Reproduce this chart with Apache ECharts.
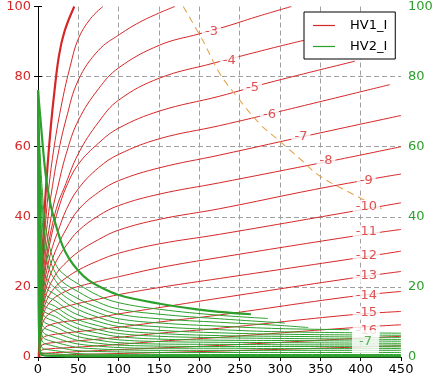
<!DOCTYPE html>
<html><head><meta charset="utf-8">
<script src="https://cdn.jsdelivr.net/npm/echarts@6/dist/echarts.min.js"></script>
<style>html,body{margin:0;padding:0;background:#fff}#c{width:437px;height:379px}</style>
</head><body><div id="c"></div>
<script>
// ---- HV1_I (red) contour curves: [x, y] points ----
const hv1_thick = [[1,0],[2,8],[3,15],[5,27],[7.5,38],[9,45],[12,55],[16,66],[20,75],[26,86],[33,93],[45,100]];
const hv1_r1 = [[1,0],[2,7],[3,13],[5,23],[8,34],[13,47.4],[20,60],[30,73],[40,83],[50,90.8],[65,96.5],[80.5,100]];
const hv1_r2 = [[1,0],[2,6.5],[3,12],[5,21],[8,30],[12,39],[17,47.4],[25,58],[35,68],[50,79],[75,87.5],[101,92],[130,96],[169.5,100]];
const hv1_m3 = [[1,0],[2,6],[3,11],[5,19],[8,27],[12,34],[18,42],[23,47],[35,58],[50,67.5],[75,76.5],[100,82.5],[151,89],[200,92.2],[233,94.3],[270,97],[314,100]];
const hv1_m4 = [[1,0],[2,5.5],[3,10],[5,17.5],[8,24.5],[12,31],[18,38],[25,44],[32,48],[50,58],[75,67],[100,73.3],[151,79.6],[217,83.8],[254,86],[300,88.7],[345,91.2]];
const hv1_m5 = [[1,0],[2,5],[3,9.5],[5,16],[8,23],[12,29],[18,36],[25,42],[35,48.5],[50,55],[75,61],[100,65.3],[151,70.2],[225,74.4],[285,78.2],[393,84.4]];
const hv1_m6 = [[1,0],[2,4.8],[3,9],[5,15],[8,21],[12,26],[18,31.5],[25,36],[35,42],[50,48],[75,54],[100,57.8],[151,62.3],[225,66],[304,70.3],[436,77.7]];
const hv1_m7 = [[1,0],[2,4.6],[3,8.6],[5,14],[8,19],[12,23.5],[18,28],[25,32],[35,36.5],[50,42],[75,47],[100,50.3],[151,54],[225,57.6],[347,63.8],[450,68.9]];
const hv1_m8 = [[1,0],[2,4.4],[3,8.2],[5,13],[8,17.5],[12,21.2],[18,25],[25,28.3],[35,31.8],[50,36],[75,40.3],[100,43.2],[151,46.5],[225,49.7],[338,54.8],[374,56.4],[450,60]];
const hv1_m9 = [[1,0],[2,4.2],[3,7.8],[5,12.2],[8,16],[12,19],[18,22],[25,24.5],[35,27],[50,30],[75,33.5],[100,36.2],[151,39.3],[225,42.3],[343,47.8],[424,51.2],[450,52.2]];
const hv1_m10 = [[1,0],[2,4],[3,7.4],[5,11.3],[8,14.4],[12,16.8],[18,19],[25,20.8],[35,22.6],[50,24.8],[75,27.5],[100,29.6],[151,32.3],[225,35],[386,41.4],[450,44]];
const hv1_m11 = [[1,0],[2,3.8],[3,7],[5,10.4],[8,13],[12,14.8],[18,16.4],[25,17.6],[35,18.8],[48,20],[85,22.1],[100,22.9],[151,25.5],[225,28.4],[386,34.3],[450,36.4]];
const hv1_m12 = [[1,0],[2,3.5],[3,6.3],[5,9],[8,10.8],[12,12],[18,13],[25,13.7],[35,14.4],[48,15.2],[75,16.5],[100,17.8],[155,20],[225,22.4],[386,27.9],[450,30.2]];
const hv1_m13 = [[1,0],[2,3],[3,5.2],[5,7.2],[8,8.2],[12,8.9],[25,9.8],[48,10.5],[75,11.3],[100,12.3],[156,14.3],[225,16.8],[386,22.4],[450,24.4]];
const hv1_m14 = [[1,0],[2,2.4],[3,4],[5,5.2],[8,5.8],[12,6.1],[25,6.6],[48,7.2],[100,8.5],[151,10],[225,12],[386,17.2],[450,18.7]];
const hv1_m15 = [[1,0],[2,1.8],[3,2.8],[5,3.4],[12,3.9],[25,4.2],[48,4.6],[100,5.6],[151,6.8],[225,8.2],[386,12],[450,13]];
const hv1_m16 = [[1,0],[2,1.1],[3,1.6],[5,2],[12,2.3],[48,2.8],[100,3.6],[151,4.5],[225,5.6],[386,8.3],[450,9.2]];
const hv1_m17 = [[1,0],[2,0.6],[5,1],[48,1.5],[100,2.1],[225,3.3],[386,5.2],[450,5.9]];
const hv1_m18 = [[1,0],[5,0.4],[48,0.7],[225,1.7],[450,3.2]];

// ---- HV2_I (green) contour curves ----
const hv2_thick = [[0,76],[3,68],[6,60],[9,53],[12,48],[16,43],[21.7,38],[30,32],[38,28.3],[50,24.6],[62,22],[76,20.1],[100,17.7],[151,15.2],[200,13.5],[225,12.9],[264,12.2]];
const hv2_g1 = [[0.2,76],[2,62],[4,52],[5.5,47],[8,40],[12,34],[16,30],[21.7,26.5],[30,24],[50,20.8],[75,17.5],[100,15.5],[151,13.6],[225,11.9],[285,11]];
const hv2_g2 = [[0.2,76],[1.5,62],[3,52],[4.5,46],[7,38],[10,32],[15,27.5],[21.7,24],[30,21.5],[50,18.6],[75,15.6],[100,13.7],[151,12.2],[225,10.9],[306,9.7]];
const hv2_g3 = [[0.2,76],[1.2,62],[2.5,52],[4,44],[6,36.5],[9,30],[14,25],[21.7,21.8],[30,19.5],[50,16.6],[75,14],[100,12.2],[151,10.9],[225,9.9],[300,9],[335,8.4]];
const hv2_g4 = [[0.2,76],[1,62],[2.2,52],[3.5,42],[5.2,31],[7.2,25.3],[10,22.8],[15,21],[21.7,19.6],[35,17],[50,15],[75,12.6],[100,10.9],[151,9.7],[225,8.8],[300,8.1],[386,7.8]];
const hv2_g5 = [[0.2,76],[0.9,62],[2,52],[3.2,40],[4.5,30],[6,24],[8,21],[12,19.2],[21.7,17.8],[35,15.4],[50,13.5],[75,11.3],[100,9.7],[151,8.6],[225,7.8],[300,7.2],[450,6.8]];
const hv2_g6 = [[0.2,76],[0.8,62],[1.8,52],[2.9,39],[4,29],[5.2,23],[7,19.5],[10,17.6],[21.7,16],[35,13.8],[50,12],[75,10.1],[100,8.7],[151,7.6],[225,6.9],[300,6.5],[450,6.2]];
const hv2_g7 = [[0.2,76],[0.75,62],[1.6,52],[2.6,38],[3.6,28],[4.8,21.5],[6.5,17.7],[10,15.8],[21.7,14.4],[35,12.3],[50,10.6],[75,8.9],[100,7.6],[151,6.7],[225,6.1],[300,5.9],[450,5.6]];
const hv2_g8 = [[0.2,76],[0.7,62],[1.5,52],[2.4,37],[3,30],[4,23],[5.2,17.7],[7,15],[10,14.2],[21.7,13],[35,11],[50,9.4],[75,7.8],[100,6.7],[151,5.9],[225,5.5],[300,5.3],[450,5]];
const hv2_g9 = [[0.2,76],[0.65,62],[1.4,50],[2.2,36],[2.8,28],[3.8,20],[5,15.6],[7,13.3],[10,12.6],[21.7,11.5],[35,9.7],[50,8.1],[75,6.8],[100,5.8],[151,5.1],[225,4.8],[300,4.7],[450,4.5]];
const hv2_g10 = [[0.2,76],[0.6,62],[1.3,48],[2,32],[3,22],[4,16.5],[5.2,13.5],[7,12],[10,11.2],[21.7,10.1],[35,8.4],[50,6.9],[75,5.7],[100,4.9],[151,4.4],[225,4.2],[300,4.1],[450,3.9]];
const hv2_g11 = [[0.2,76],[0.55,62],[1.2,46],[2,27],[3,18],[4,13.5],[5.2,11.3],[7,10.2],[10,9.6],[21.7,8.6],[35,7.1],[50,5.8],[75,4.8],[100,4.1],[151,3.7],[225,3.6],[300,3.5],[450,3.4]];
const hv2_g12 = [[0.2,76],[0.5,62],[1.1,44],[2,23],[3,15],[4,11.2],[5.2,9.3],[7,8.5],[10,8],[21.7,7],[35,5.8],[50,4.7],[75,3.9],[100,3.4],[151,3.1],[225,3.0],[300,3.0],[450,2.9]];
const hv2_g13 = [[0.2,76],[0.45,62],[1,42],[2,18],[3,12],[4,9],[5.2,7.6],[7,6.9],[10,6.4],[21.7,5.5],[35,4.5],[50,3.7],[75,3.1],[100,2.7],[151,2.5],[225,2.5],[300,2.4],[450,2.4]];
const hv2_g14 = [[0.2,76],[0.4,62],[0.9,40],[2,14],[3,9.5],[4,7.2],[5.2,6],[7,5.4],[10,5],[21.7,4.2],[35,3.4],[50,2.7],[75,2.3],[100,2.05],[151,1.9],[225,1.9],[450,1.9]];
const hv2_g15 = [[0.2,76],[0.35,62],[0.8,38],[2,10],[3,7],[4,5.4],[5.2,4.5],[7,4],[10,3.7],[21.7,3],[35,2.3],[50,1.8],[100,1.45],[151,1.3],[450,1.3]];
const hv2_g16 = [[0.2,76],[0.3,62],[0.7,36],[2,6],[3,4.5],[5.2,2.6],[10,2.2],[21.7,1.8],[50,0.95],[100,0.75],[450,0.7]];
const hv2_g17 = [[0.2,76],[0.25,60],[0.6,30],[2,3],[5,1.2],[21.7,0.9],[50,0.5],[450,0.4]];
const hv2_g18 = [[0.2,76],[0.22,60],[0.5,25],[2,1.5],[10,0.4],[50,0.2],[450,0.15]];

// dashed guide line
const guideLine = [[180,100],[205,90],[225,81],[248,73.9],[275,66.5],[299.5,61.6],[325,56.5],[349,51.7],[390,46.5],[426,42.3]];

// contour labels
const hv1LabelText = ['-3','-4','-5','-6','-7','-8','-9','-10','-11','-12','-13','-14','-15','-16'];
const hv1LabelX = [215,237,266,287,326,357,407,407,407,407,407,407,407,407];
const hv1LabelY = [92.8,84.5,76.9,69.2,63,55.9,50.2,42.8,35.7,29,23.2,17.5,12.6,7.6];
const hv2LabelText = ['-7'];
const hv2LabelX = [406];
const hv2LabelY = [4.4];

const RED = '#d62728', GREEN = '#2ca02c';
const FONT = 'DejaVu Sans';

const redCurves = [hv1_thick,hv1_r1,hv1_r2,hv1_m3,hv1_m4,hv1_m5,hv1_m6,hv1_m7,hv1_m8,hv1_m9,hv1_m10,hv1_m11,hv1_m12,hv1_m13,hv1_m14,hv1_m15,hv1_m16,hv1_m17,hv1_m18];
const greenCurves = [hv2_thick,hv2_g1,hv2_g2,hv2_g3,hv2_g4,hv2_g5,hv2_g6,hv2_g7,hv2_g8,hv2_g9,hv2_g10,hv2_g11,hv2_g12,hv2_g13,hv2_g14,hv2_g15,hv2_g16,hv2_g17,hv2_g18];

const series = [];
redCurves.forEach((c,i)=>series.push({
  name:'HV1_I', type:'line', data:c, showSymbol:false, symbol:'none',
  smooth:0.4, z:2, silent:true,
  lineStyle:{color:RED, width: i===0?2.2:1}, itemStyle:{color:RED}
}));
greenCurves.forEach((c,i)=>series.push({
  name:'HV2_I', type:'line', data:c, showSymbol:false, symbol:'none',
  smooth:0.4, z:3, silent:true,
  lineStyle:{color:GREEN, width: (i===0||i===greenCurves.length-1)?2.2:1}, itemStyle:{color:GREEN}
}));
series.push({
  name:'guide', type:'line', data:guideLine, showSymbol:false, symbol:'none', smooth:0.4, z:4, silent:true,
  lineStyle:{color:'#e6a552', width:1.1, type:[7,5]}
});
series.push({
  name:'hv1labels', type:'scatter', symbolSize:0, z:10, silent:true,
  data: hv1LabelText.map((t,i)=>[hv1LabelX[i],hv1LabelY[i],t]),
  label:{show:true, position:'inside', formatter:p=>p.value[2], color:RED, fontFamily:FONT, fontSize:13,
    backgroundColor:'#fff', padding:[1,3,0,3]}
});
series.push({
  name:'hv2labels', type:'scatter', symbolSize:0, z:11, silent:true,
  data: hv2LabelText.map((t,i)=>[hv2LabelX[i],hv2LabelY[i],t]),
  label:{show:true, position:'inside', formatter:p=>p.value[2], color:GREEN, fontFamily:FONT, fontSize:13,
    backgroundColor:'#fff', padding:[5,7,5,7]}
});

const splitStyle = {color:'#a0a0a0', type:[5,3], width:1};
const chart = echarts.init(document.getElementById('c'), null, {renderer:'canvas'});
chart.setOption({
  animation:false,
  backgroundColor:'#fff',
  grid:{left:38, right:36, top:5, bottom:22, show:false},
  legend:{
    data:['HV1_I','HV2_I'], orient:'vertical', left:304, top:12,
    backgroundColor:'#fff', borderColor:'#000', borderWidth:1, borderRadius:0,
    padding:[7,8,6,9], itemWidth:22, itemHeight:1.2, itemGap:8, icon:'rect',
    textStyle:{fontFamily:FONT, fontSize:13, color:'#000', padding:[0,0,0,10]}
  },
  xAxis:[
    {type:'value', min:0, max:450, interval:50, position:'bottom',
     axisLine:{show:true, lineStyle:{color:'#000'}}, axisTick:{show:true, length:4, lineStyle:{color:'#000'}},
     axisLabel:{color:'#000', fontFamily:FONT, fontSize:13, margin:6},
     splitLine:{show:true, showMinLine:false, showMaxLine:false, lineStyle:splitStyle}},
    {type:'value', min:0, max:450, interval:50, position:'top',
     axisLine:{show:true, lineStyle:{color:'#000'}}, axisTick:{show:false}, axisLabel:{show:false}, splitLine:{show:false}}
  ],
  yAxis:[
    {type:'value', min:0, max:100, interval:20, position:'left',
     axisLine:{show:true, lineStyle:{color:'#000'}}, axisTick:{show:true, length:4, lineStyle:{color:'#000'}},
     axisLabel:{color:RED, fontFamily:FONT, fontSize:13, margin:7},
     splitLine:{show:true, showMinLine:false, showMaxLine:false, lineStyle:splitStyle}},
    {type:'value', min:0, max:100, interval:20, position:'right',
     axisLine:{show:true, lineStyle:{color:'#000'}}, axisTick:{show:true, length:4, lineStyle:{color:'#000'}},
     axisLabel:{color:GREEN, fontFamily:FONT, fontSize:13, margin:7},
     splitLine:{show:false}}
  ],
  series: series
});
</script></body></html>
